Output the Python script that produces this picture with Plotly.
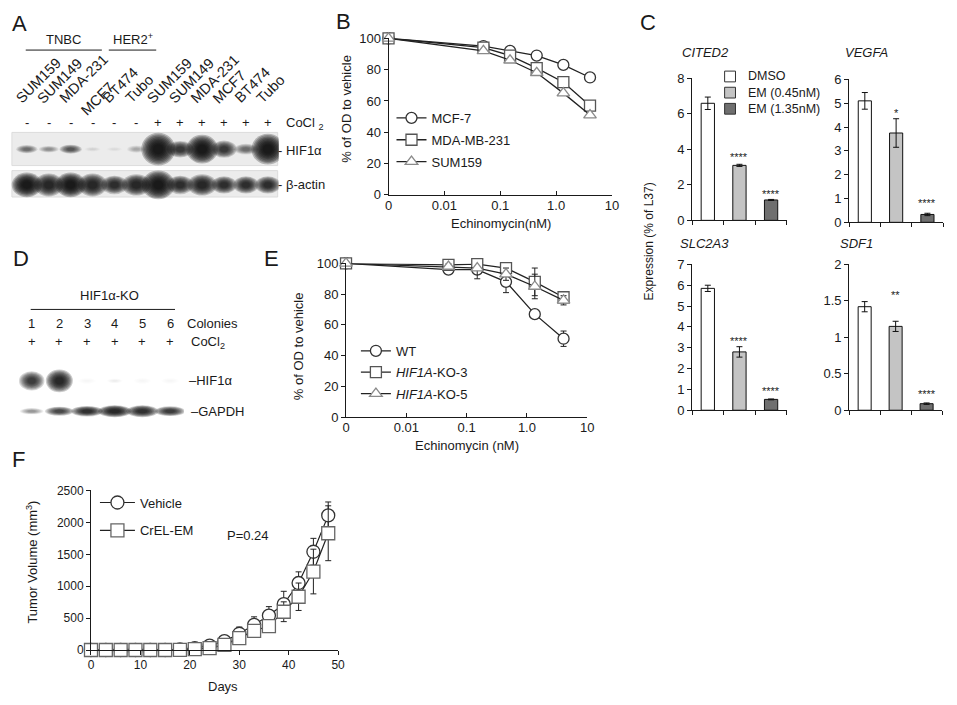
import plotly.graph_objects as go

W, H = 957, 705
FONT = "Arial, Liberation Sans, Helvetica, sans-serif"
INK = "#1a1a1a"

# ---------------- data ----------------
# Panel A western blot (band darkness 0..1, band size in lane/row units)
a_lanes = ["SUM159", "SUM149", "MDA-231", "MCF7", "BT474", "Tubo",
           "SUM159", "SUM149", "MDA-231", "MCF7", "BT474", "Tubo"]
a_cocl2 = ["-", "-", "-", "-", "-", "-", "+", "+", "+", "+", "+", "+"]
a_label_raise = [0, 0, 0, 13, 0, 0, 0, 0, 0, 0, 0, 0]
a_hif_int = [0.6, 0.45, 0.7, 0.12, 0.08, 0.3, 1.0, 0.85, 1.0, 0.85, 0.6, 1.0]
a_hif_w = [0.85, 0.8, 0.9, 0.65, 0.65, 0.75, 1.35, 1.05, 1.25, 1.0, 0.95, 1.3]
a_hif_h = [0.2, 0.16, 0.22, 0.12, 0.12, 0.18, 0.8, 0.4, 0.7, 0.42, 0.26, 0.75]
a_act_int = [1.0, 0.95, 1.0, 0.95, 0.9, 0.95, 1.0, 0.9, 0.95, 0.9, 0.9, 0.9]
a_act_w = [1.2, 1.15, 1.2, 1.15, 1.05, 1.15, 1.3, 1.05, 1.15, 1.0, 1.0, 1.0]
a_act_h = [0.6, 0.56, 0.6, 0.56, 0.45, 0.52, 0.7, 0.45, 0.52, 0.42, 0.42, 0.42]

# Panel B viability
doses = [0, 0.05, 0.15, 0.45, 1.35, 4.05]
b_mcf7 = [100, 95, 92, 89, 83, 75]
b_mda231 = [100, 94, 89, 81, 72, 57]
b_sum159 = [100, 92, 86, 78, 65, 51]

# Panel C qPCR
c_groups = ["DMSO", "EM (0.45nM)", "EM (1.35nM)"]
c_colors = ["#ffffff", "#c4c4c4", "#6f6f6f"]
c_genes = ["CITED2", "VEGFA", "SLC2A3", "SDF1"]
c_vals = {"CITED2": [6.6, 3.1, 1.15], "VEGFA": [5.1, 3.75, 0.33],
          "SLC2A3": [5.85, 2.8, 0.52], "SDF1": [1.42, 1.15, 0.09]}
c_errs = {"CITED2": [0.35, 0.06, 0.03], "VEGFA": [0.35, 0.6, 0.05],
          "SLC2A3": [0.15, 0.25, 0.02], "SDF1": [0.07, 0.07, 0.01]}
c_stars = {"CITED2": ["", "****", "****"], "VEGFA": ["", "*", "****"],
           "SLC2A3": ["", "****", "****"], "SDF1": ["", "**", "****"]}
c_star_y = {"CITED2": [0, 3.75, 1.65], "VEGFA": [0, 4.7, 0.94],
            "SLC2A3": [0, 3.47, 1.08], "SDF1": [0, 1.62, 0.27]}
c_yticks = {"CITED2": [0, 2, 4, 6, 8], "VEGFA": [0, 1, 2, 3, 4, 5, 6],
            "SLC2A3": [0, 1, 2, 3, 4, 5, 6, 7], "SDF1": [0, 0.5, 1, 1.5, 2]}

# Panel D western blot
d_colonies = ["1", "2", "3", "4", "5", "6"]
d_hif_int = [0.85, 0.95, 0.03, 0.08, 0.03, 0.03]
d_hif_w = [0.8, 0.85, 0.6, 0.5, 0.6, 0.6]
d_hif_h = [0.55, 0.65, 0.2, 0.15, 0.2, 0.2]
d_gapdh_int = [0.45, 0.8, 0.9, 0.95, 0.9, 0.85]
d_gapdh_w = [0.75, 0.9, 1.0, 1.05, 1.0, 0.95]
d_gapdh_h = [0.18, 0.26, 0.3, 0.34, 0.34, 0.28]

# Panel E viability of KO clones
e_wt = [100, 96, 96, 88, 67, 51]
e_wt_err = [0, 2, 3, 7, 2, 5]
e_ko3 = [100, 99, 99.5, 97, 88, 78]
e_ko3_err = [0, 2, 3, 3, 9, 3]
e_ko5 = [100, 98, 97, 93, 85, 76]
e_ko5_err = [0, 2, 7, 4, 8, 3]

# Panel F tumor growth
f_days = [0, 3, 6, 9, 12, 15, 18, 21, 24, 27, 30, 33, 36, 39, 42, 45, 48]
f_vehicle = [0, 0, 0, 0, 0, 0, 8, 30, 70, 140, 255, 395, 540, 720, 1050, 1540, 2110]
f_vehicle_err = [0, 0, 0, 0, 0, 0, 5, 15, 30, 60, 105, 125, 140, 200, 175, 210, 210]
f_crel = [0, 0, 0, 0, 0, 0, 3, 15, 30, 80, 185, 300, 375, 600, 835, 1230, 1830]
f_crel_err = [0, 0, 0, 0, 0, 0, 3, 10, 20, 40, 50, 60, 80, 155, 215, 350, 430]

# ---------------- helpers ----------------
def dx(a, b):
    return [a / W, b / W]


def dy(top, bottom):
    return [1 - bottom / H, 1 - top / H]


def px(x):
    return x / W


def py(y):
    return 1 - y / H


ax_common = dict(showline=True, linecolor=INK, linewidth=1, ticks="outside",
                 ticklen=4, tickcolor=INK, tickwidth=1,
                 tickfont=dict(size=13, family=FONT, color=INK),
                 showgrid=False, zeroline=False, fixedrange=True)

fig = go.Figure()
annotations = []
shapes = []


def note(x, y, text, size=13, xanchor="center", yanchor="middle", xref="paper",
         yref="paper", angle=0, italic=False, **kw):
    annotations.append(dict(x=x, y=y, xref=xref, yref=yref, text=text, showarrow=False,
                            xanchor=xanchor, yanchor=yanchor, textangle=angle,
                            font=dict(size=size, family=FONT, color=INK,
                                      style="italic" if italic else "normal"), **kw))


def dose_pos(d):
    return d if d > 0 else 0.001


def add_curve(x, y, name, symbol, mcolor, xa, ya, legend, err=None, size=11, lw=1.3):
    fig.add_trace(go.Scatter(
        x=x, y=y, name=name, mode="lines+markers",
        line=dict(color="#222222", width=lw),
        marker=dict(symbol=symbol, size=size, color="white",
                    line=dict(color=mcolor, width=1.3)),
        error_y=dict(type="data", array=err if err is not None else [0] * len(y),
                     visible=err is not None, color="#222222", thickness=1, width=3),
        xaxis=xa, yaxis=ya, legend=legend, legendgroup=legend + name,
        cliponaxis=False, hoverinfo="skip"))


BAND_SCALES = [1.15, 1.05, 0.95, 0.85, 0.75, 0.65, 0.55, 0.45, 0.35]


def add_bands(xref, yref, row, ints, ws, hs):
    n = len(BAND_SCALES)
    for i, (a, w, h) in enumerate(zip(ints, ws, hs)):
        k = 1 - (1 - 0.93 * a) ** (1.0 / n)
        for s in BAND_SCALES:
            shapes.append(dict(type="circle", xref=xref, yref=yref,
                               x0=i - w * s / 2, x1=i + w * s / 2,
                               y0=row - h * s / 2, y1=row + h * s / 2,
                               fillcolor=f"rgba(12,12,12,{k:.3f})",
                               line=dict(width=0), layer="above"))

# ---------------- Panel A (blot on hidden axes x8/y8) ----------------
A_LEFT, A_RIGHT = 12, 278           # pixel span of the 12 lanes
A_LANE = (A_RIGHT - A_LEFT) / len(a_lanes)
fig.add_trace(go.Scatter(x=[], y=[], xaxis="x8", yaxis="y8", showlegend=False))
shapes.append(dict(type="rect", xref="x8", yref="y8", x0=-0.68, x1=11.45, y0=-0.47, y1=0.46,
                   fillcolor="#ececec", line=dict(color="#dcdcdc", width=1), layer="above"))
shapes.append(dict(type="rect", xref="x8", yref="y8", x0=-0.68, x1=11.45, y0=0.6, y1=1.34,
                   fillcolor="#ececec", line=dict(color="#dcdcdc", width=1), layer="above"))
add_bands("x8", "y8", 0, a_hif_int, a_hif_w, a_hif_h)
add_bands("x8", "y8", 1, a_act_int, a_act_w, a_act_h)
for i, (lab, sign, r) in enumerate(zip(a_lanes, a_cocl2, a_label_raise)):
    note(i - 0.8, py(104 + r), lab, size=14.5, xanchor="left", yanchor="bottom", xref="x8", angle=-45)
    note(i, py(118), sign, size=13, xref="x8")
note(px(283), py(119), "CoCl <sub>2</sub>", size=13, xanchor="left")
note(px(275), py(147), "- HIF1α", size=13, xanchor="left")
note(px(275), py(181), "- β-actin", size=13, xanchor="left")
note(px(60), py(33), "TNBC", size=13)
note(px(130), py(33), "HER2<sup>+</sup>", size=13)
shapes.append(dict(type="line", xref="paper", yref="paper", x0=px(22), x1=px(99), y0=py(44), y1=py(44),
                   line=dict(color=INK, width=1)))
shapes.append(dict(type="line", xref="paper", yref="paper", x0=px(106), x1=px(154), y0=py(44), y1=py(44),
                   line=dict(color=INK, width=1)))

# ---------------- Panel B ----------------
bx = [dose_pos(d) for d in doses]
add_curve(bx, b_mcf7, "MCF-7", "circle", "#333333", "x", "y", "legend")
add_curve(bx, b_mda231, "MDA-MB-231", "square", "#555555", "x", "y", "legend")
add_curve(bx, b_sum159, "SUM159", "triangle-up", "#8a8a8a", "x", "y", "legend")
note(3.0, 67, "***", size=11, xref="x", yref="y", yshift=-3)
note(1.53, 58, "****", size=11, xref="x", yref="y", yshift=-3)
note(px(347), py(104), "% of OD to vehicle", size=13, angle=-90)
note(px(503), py(221), "Echinomycin(nM)", size=13)

# ---------------- Panel C ----------------
c_axes = [("x2", "y2"), ("x3", "y3"), ("x4", "y4"), ("x5", "y5")]
c_xpos = [i + 1 for i in range(len(c_groups))]
for gene, (xa, ya) in zip(c_genes, c_axes):
    fig.add_trace(go.Bar(x=c_xpos, y=c_vals[gene], width=0.42,
                         marker=dict(color=c_colors, line=dict(color="#111111", width=1)),
                         error_y=dict(type="data", array=c_errs[gene], color="#111111",
                                      thickness=1, width=3),
                         xaxis=xa, yaxis=ya, showlegend=False, hoverinfo="skip"))
    for xi, s, sy in zip(c_xpos, c_stars[gene], c_star_y[gene]):
        if s:
            note(xi, sy, s, size=11, xref=xa, yref=ya, yshift=-3)
note(px(710), py(47), "CITED2", size=13, italic=True)
note(px(873), py(47), "VEGFA", size=13, italic=True)
note(px(709), py(242), "SLC2A3", size=13, italic=True)
note(px(862), py(242), "SDF1", size=13, italic=True)
note(px(652), py(240), "Expression (% of L37)", size=12, angle=-90)
for k, (g, col) in enumerate(zip(c_groups, c_colors)):
    yc = 71 + k * 16.5
    shapes.append(dict(type="rect", xref="paper", yref="paper", x0=px(729), x1=px(740),
                       y0=py(yc + 5.5), y1=py(yc - 5.5), fillcolor=col,
                       line=dict(color="#333333", width=1)))
    note(px(751), py(yc), g, size=12.5, xanchor="left")

# ---------------- Panel D (blot on hidden axes x9/y9) ----------------
fig.add_trace(go.Scatter(x=[], y=[], xaxis="x9", yaxis="y9", showlegend=False))
add_bands("x9", "y9", 0, d_hif_int, d_hif_w, d_hif_h)
add_bands("x9", "y9", 1, d_gapdh_int, d_gapdh_w, d_gapdh_h)
for i, c in enumerate(d_colonies):
    note(i, py(323), c, size=13, xref="x9")
    note(i, py(342), "+", size=13, xref="x9")
note(px(107), py(295), "HIF1α-KO", size=13)
shapes.append(dict(type="line", xref="paper", yref="paper", x0=px(27), x1=px(173), y0=py(309), y1=py(309),
                   line=dict(color=INK, width=1)))
note(px(183), py(323), "Colonies", size=13, xanchor="left")
note(px(187), py(343), "CoCl<sub>2</sub>", size=13, xanchor="left")
note(px(185), py(382), "–HIF1α", size=13, xanchor="left")
note(px(187), py(413), "–GAPDH", size=13, xanchor="left")

# ---------------- Panel E ----------------
add_curve(bx, e_wt, "WT", "circle", "#333333", "x6", "y6", "legend2", err=e_wt_err)
add_curve(bx, e_ko3, "<i>HIF1A</i>-KO-3", "square", "#555555", "x6", "y6", "legend2", err=e_ko3_err)
add_curve(bx, e_ko5, "<i>HIF1A</i>-KO-5", "triangle-up", "#8a8a8a", "x6", "y6", "legend2", err=e_ko5_err)
note(2.9, 87, "***", size=11, xref="x6", yref="y6", yshift=-3)
note(2.2, 77, "**", size=11, xref="x6", yref="y6", yshift=-3)
note(px(298), py(347), "% of OD to vehicle", size=13, angle=-90)
note(px(468), py(448), "Echinomycin (nM)", size=13)

# ---------------- Panel F ----------------
add_curve(f_days, f_vehicle, "Vehicle", "circle", "#333333", "x7", "y7", "legend3",
          err=f_vehicle_err, size=13, lw=1.2)
add_curve(f_days, f_crel, "CrEL-EM", "square", "#666666", "x7", "y7", "legend3",
          err=f_crel_err, size=13, lw=1.2)
note(px(247), py(540), "P=0.24", size=13)
note(px(28), py(567), "Tumor Volume (mm<sup>3</sup>)", size=13, angle=-90)
note(px(222), py(694), "Days", size=13)

# ---------------- panel letters ----------------
for lab, x, y in [("A", 6, 17), ("B", 334, 15), ("C", 641, 16), ("D", 7, 257),
                  ("E", 261, 257), ("F", 6, 462)]:
    note(px(x), py(y), lab, size=22, xanchor="left")

# ---------------- layout ----------------
logx = dict(type="log", range=[-3, 1], tickvals=[0.001, 0.01, 0.1, 1, 10],
            ticktext=["0", "0.01", "0.1", "1.0", "10"], ticks="inside", ticklabelstandoff=-2)
layout = dict(
    width=W, height=H, margin=dict(l=0, r=0, t=0, b=0),
    paper_bgcolor="white", plot_bgcolor="white",
    font=dict(family=FONT, size=13, color=INK),
    showlegend=True,
    xaxis=dict(ax_common, domain=dx(389, 615), anchor="y", **logx),
    yaxis=dict(ax_common, domain=dy(32, 192), anchor="x", range=[0, 100], tickvals=[0, 20, 40, 60, 80, 100]),
    xaxis6=dict(ax_common, domain=dx(346, 590), anchor="y6", **logx),
    yaxis6=dict(ax_common, domain=dy(262, 419), anchor="x6", range=[0, 100], tickvals=[0, 20, 40, 60, 80, 100]),
    xaxis7=dict(ax_common, domain=dx(88, 338), anchor="y7", range=[0, 50], tickvals=[0, 10, 20, 30, 40, 50],
                tickfont=dict(size=12, family=FONT, color=INK)),
    yaxis7=dict(ax_common, domain=dy(494, 657), anchor="x7", range=[0, 2500],
                tickvals=[0, 500, 1000, 1500, 2000, 2500], tickfont=dict(size=12, family=FONT, color=INK)),
    # blot A axis spans from the page edge so rotated labels left of lane 0 stay inside the range
    xaxis8=dict(visible=False, domain=dx(0, A_RIGHT), range=[-0.5 - A_LEFT / A_LANE, len(a_lanes) - 0.5],
                anchor="y8", fixedrange=True),
    yaxis8=dict(visible=False, domain=dy(127, 200), range=[1.5, -0.5], anchor="x8", fixedrange=True),
    xaxis9=dict(visible=False, domain=dx(14, 182), range=[-0.5, 5.5], anchor="y9", fixedrange=True),
    yaxis9=dict(visible=False, domain=dy(366.5, 428.5), range=[1.5, -0.5], anchor="x9", fixedrange=True),
    legend=dict(x=px(392), y=py(98), xanchor="left", yanchor="top", bgcolor="rgba(0,0,0,0)",
                font=dict(size=13, family=FONT, color=INK), tracegroupgap=2, itemwidth=30),
    legend2=dict(x=px(356), y=py(336), xanchor="left", yanchor="top", bgcolor="rgba(0,0,0,0)",
                 font=dict(size=13, family=FONT, color=INK), tracegroupgap=1.5, itemwidth=30),
    legend3=dict(x=px(92), y=py(491), xanchor="left", yanchor="top", bgcolor="rgba(0,0,0,0)",
                 font=dict(size=13, family=FONT, color=INK), tracegroupgap=8, itemwidth=35),
)
c_dom = {"CITED2": (dx(696, 792), dy(73, 218)), "VEGFA": (dx(855, 950), dy(74, 220)),
         "SLC2A3": (dx(696, 792), dy(263, 412)), "SDF1": (dx(855, 949), dy(263, 412))}
for gene, (xa, ya) in zip(c_genes, c_axes):
    xd, yd = c_dom[gene]
    n = xa[1:]
    layout["xaxis" + n] = dict(ax_common, domain=xd, anchor="y" + n, range=[0.5, 3.5],
                               tickvals=[0.5, 1.5, 2.5, 3.5], showticklabels=False)
    yt = c_yticks[gene]
    layout["yaxis" + n] = dict(ax_common, domain=yd, anchor="x" + n, range=[0, yt[-1]], tickvals=yt)
layout["annotations"] = annotations
layout["shapes"] = shapes
fig.update_layout(**layout)
fig.write_html("out.html", config={"displayModeBar": False},
               post_script="document.body.style.margin='0px';document.body.style.padding='0px';")
